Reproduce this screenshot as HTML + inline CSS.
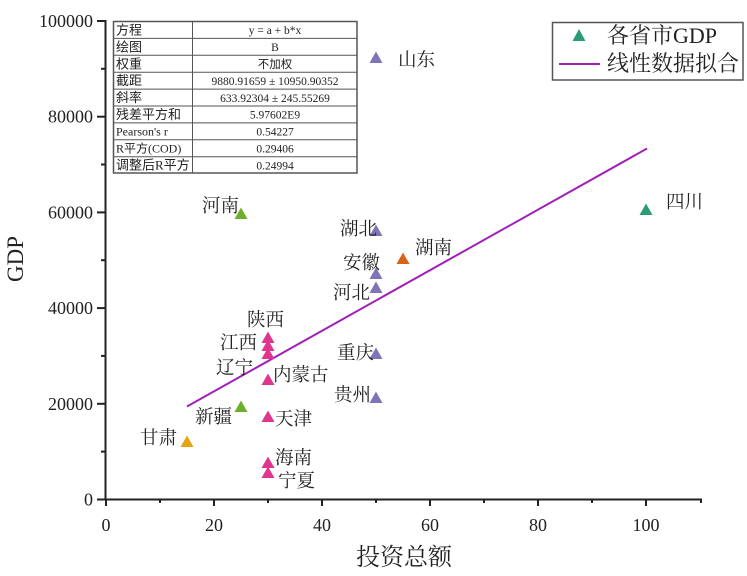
<!DOCTYPE html>
<html><head><meta charset="utf-8"><style>
html,body{margin:0;padding:0;background:#fff;}
svg{display:block;}
.ser{font-family:"Liberation Serif","Noto Serif CJK SC",serif;}
.cjk{font-family:"Liberation Serif","Noto Serif CJK SC",serif;}
.tb{font-family:"Liberation Serif","Noto Sans CJK SC",serif;font-size:11.5px;fill:#222;}
</style></head><body>
<svg width="747" height="576" viewBox="0 0 747 576" xmlns="http://www.w3.org/2000/svg">
<rect width="747" height="576" fill="#fff"/>

<!-- axes -->
<g stroke="#222" stroke-width="2" fill="none">
<line x1="105.5" y1="20" x2="105.5" y2="500"/>
<line x1="105" y1="499.5" x2="702" y2="499.5"/>
<!-- y major ticks -->
<line x1="97" y1="499.5" x2="105" y2="499.5"/>
<line x1="97" y1="403.8" x2="105" y2="403.8"/>
<line x1="97" y1="308.1" x2="105" y2="308.1"/>
<line x1="97" y1="212.4" x2="105" y2="212.4"/>
<line x1="97" y1="116.7" x2="105" y2="116.7"/>
<line x1="97" y1="21" x2="105" y2="21"/>
<!-- y minor -->
<line x1="101" y1="451.6" x2="105" y2="451.6"/>
<line x1="101" y1="355.9" x2="105" y2="355.9"/>
<line x1="101" y1="260.2" x2="105" y2="260.2"/>
<line x1="101" y1="164.5" x2="105" y2="164.5"/>
<line x1="101" y1="68.8" x2="105" y2="68.8"/>
<!-- x major ticks -->
<line x1="106" y1="499" x2="106" y2="506"/>
<line x1="214" y1="499" x2="214" y2="506"/>
<line x1="322" y1="499" x2="322" y2="506"/>
<line x1="430" y1="499" x2="430" y2="506"/>
<line x1="538" y1="499" x2="538" y2="506"/>
<line x1="646" y1="499" x2="646" y2="506"/>
<!-- x minor -->
<line x1="160" y1="499" x2="160" y2="503"/>
<line x1="268" y1="499" x2="268" y2="503"/>
<line x1="376" y1="499" x2="376" y2="503"/>
<line x1="484" y1="499" x2="484" y2="503"/>
<line x1="592" y1="499" x2="592" y2="503"/>
<line x1="701" y1="499" x2="701" y2="503"/>
</g>

<!-- y labels -->
<g class="ser" font-size="18" fill="#222" text-anchor="end">
<text x="93" y="505.5">0</text>
<text x="93" y="409.8">20000</text>
<text x="93" y="314.1">40000</text>
<text x="93" y="218.4">60000</text>
<text x="93" y="122.7">80000</text>
<text x="93" y="27">100000</text>
</g>
<!-- x labels -->
<g class="ser" font-size="18" fill="#222" text-anchor="middle">
<text x="106" y="531">0</text>
<text x="214" y="531">20</text>
<text x="322" y="531">40</text>
<text x="430" y="531">60</text>
<text x="538" y="531">80</text>
<text x="646" y="531">100</text>
</g>
<!-- axis titles -->
<text class="ser" font-size="23" fill="#222" text-anchor="middle" transform="translate(23,259) rotate(-90)">GDP</text>
<text class="cjk" font-size="24" fill="#222" text-anchor="middle" x="404" y="565">投资总额</text>

<!-- table -->
<g stroke="#555" stroke-width="1" fill="none">
<rect x="113.5" y="21.5" width="243.5" height="151.5" stroke-width="1.5"/>
<line x1="192.5" y1="21.5" x2="192.5" y2="173"/>
<line x1="113.5" y1="38.4" x2="357" y2="38.4"/>
<line x1="113.5" y1="55.3" x2="357" y2="55.3"/>
<line x1="113.5" y1="72.2" x2="357" y2="72.2"/>
<line x1="113.5" y1="89.1" x2="357" y2="89.1"/>
<line x1="113.5" y1="106" x2="357" y2="106"/>
<line x1="113.5" y1="122.9" x2="357" y2="122.9"/>
<line x1="113.5" y1="139.8" x2="357" y2="139.8"/>
<line x1="113.5" y1="156.7" x2="357" y2="156.7"/>
</g>
<g class="tb">
<text x="116" y="34.5" font-size="13">方程</text>
<text x="116" y="51.4" font-size="13">绘图</text>
<text x="116" y="68.3" font-size="13">权重</text>
<text x="116" y="85.2" font-size="13">截距</text>
<text x="116" y="102.1" font-size="13">斜率</text>
<text x="116" y="119" font-size="13">残差平方和</text>
<text x="116" y="135.5" font-size="12">Pearson's r</text>
<text x="116" y="152.4" font-size="12">R平方(COD)</text>
<text x="116" y="169.3" font-size="13">调整后R平方</text>
</g>
<g class="tb" text-anchor="middle">
<text x="275" y="34">y = a + b*x</text>
<text x="275" y="51">B</text>
<text x="275" y="68">不加权</text>
<text x="275" y="85">9880.91659 ± 10950.90352</text>
<text x="275" y="102">633.92304 ± 245.55269</text>
<text x="275" y="118.5">5.97602E9</text>
<text x="275" y="135.5">0.54227</text>
<text x="275" y="152.4">0.29406</text>
<text x="275" y="169.3">0.24994</text>
</g>

<!-- legend -->
<rect x="552.5" y="22.5" width="190.5" height="57.5" fill="#fff" stroke="#555" stroke-width="1.5"/>
<polygon points="579,29 572.5,41 585.5,41" fill="#2A9D78"/>
<text class="cjk" font-size="22" fill="#222" x="607" y="43">各省市GDP</text>
<line x1="559" y1="64" x2="600" y2="64" stroke="#A020B8" stroke-width="2"/>
<text class="cjk" font-size="22" fill="#222" x="607" y="71">线性数据拟合</text>

<!-- regression line -->
<line x1="187" y1="406.5" x2="647" y2="148.5" stroke="#A020B8" stroke-width="2"/>

<!-- markers -->
<defs>
<polygon id="t" points="0,-6.5 -6.5,5 6.5,5"/>
</defs>
<g fill="#7E74B8">
<use href="#t" x="376" y="58"/>
<use href="#t" x="376" y="231"/>
<use href="#t" x="376" y="274"/>
<use href="#t" x="376" y="288"/>
<use href="#t" x="376" y="354"/>
<use href="#t" x="376" y="398"/>
</g>
<use href="#t" x="646" y="210" fill="#2A9D78"/>
<use href="#t" x="241" y="214" fill="#6DAE2D"/>
<use href="#t" x="241" y="407" fill="#6DAE2D"/>
<use href="#t" x="403" y="259" fill="#D8641C"/>
<use href="#t" x="187" y="442" fill="#E5A513"/>
<g fill="#E0358C">
<use href="#t" x="268" y="338"/>
<use href="#t" x="268" y="346"/>
<use href="#t" x="268" y="354"/>
<use href="#t" x="268" y="380"/>
<use href="#t" x="268" y="417"/>
<use href="#t" x="268" y="463"/>
<use href="#t" x="268" y="473"/>
</g>

<!-- point labels -->
<g class="cjk" font-size="18.5" fill="#222">
<text x="398" y="66">山东</text>
<text x="666" y="208">四川</text>
<text x="202" y="212">河南</text>
<text x="340" y="235">湖北</text>
<text x="415" y="254">湖南</text>
<text x="343" y="269">安徽</text>
<text x="333" y="299">河北</text>
<text x="247" y="326">陕西</text>
<text x="220" y="349">江西</text>
<text x="216" y="374">辽宁</text>
<text x="273" y="381">内蒙古</text>
<text x="337" y="359">重庆</text>
<text x="334" y="401">贵州</text>
<text x="195" y="423">新疆</text>
<text x="275" y="425">天津</text>
<text x="140" y="444">甘肃</text>
<text x="275" y="464">海南</text>
<text x="278" y="487">宁夏</text>
</g>
</svg>
</body></html>
